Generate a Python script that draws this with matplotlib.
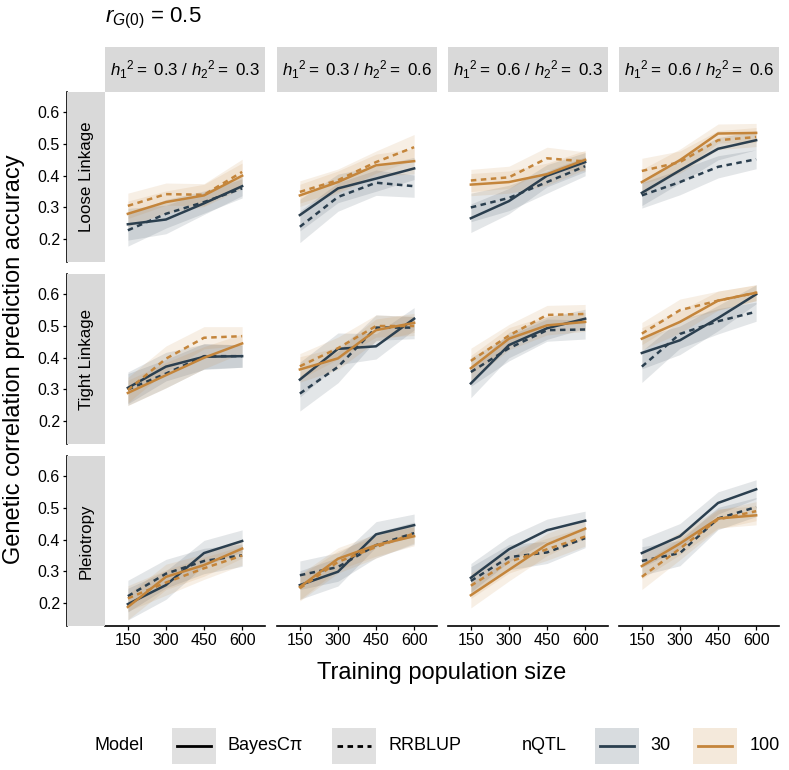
import numpy as np
import matplotlib
matplotlib.use("Agg")
import matplotlib.pyplot as plt
from matplotlib.patches import Rectangle
from matplotlib.lines import Line2D

plt.rcParams['font.family'] = ['Liberation Sans', 'DejaVu Sans']
plt.rcParams['mathtext.fontset'] = 'custom'
plt.rcParams['mathtext.rm'] = 'Liberation Sans'
plt.rcParams['mathtext.it'] = 'Liberation Sans:italic'
plt.rcParams['mathtext.bf'] = 'Liberation Sans:bold'

# данные
sizes = [150, 300, 450, 600]
row_labels = ['Loose Linkage', 'Tight Linkage', 'Pleiotropy']
col_labels = [r'$h_1{}^2 =\ 0.3\ /\ h_2{}^2 =\ 0.3$',
              r'$h_1{}^2 =\ 0.3\ /\ h_2{}^2 =\ 0.6$',
              r'$h_1{}^2 =\ 0.6\ /\ h_2{}^2 =\ 0.3$',
              r'$h_1{}^2 =\ 0.6\ /\ h_2{}^2 =\ 0.6$']

# средняя точность [строка][столбец]
bayes_30 = [
    [[0.247, 0.262, 0.313, 0.367], [0.276, 0.360, 0.391, 0.423], [0.266, 0.320, 0.400, 0.443], [0.346, 0.417, 0.485, 0.512]],
    [[0.305, 0.372, 0.403, 0.405], [0.331, 0.428, 0.436, 0.523], [0.319, 0.440, 0.493, 0.523], [0.415, 0.455, 0.525, 0.600]],
    [[0.197, 0.257, 0.358, 0.396], [0.257, 0.299, 0.417, 0.446], [0.280, 0.370, 0.430, 0.460], [0.358, 0.411, 0.516, 0.559]],
]
rrblup_30 = [
    [[0.228, 0.280, 0.317, 0.360], [0.239, 0.333, 0.378, 0.367], [0.300, 0.330, 0.380, 0.430], [0.338, 0.380, 0.428, 0.452]],
    [[0.300, 0.350, 0.405, 0.405], [0.287, 0.371, 0.495, 0.495], [0.355, 0.430, 0.487, 0.489], [0.372, 0.475, 0.515, 0.545]],
    [[0.222, 0.293, 0.333, 0.351], [0.288, 0.314, 0.383, 0.421], [0.270, 0.345, 0.360, 0.405], [0.333, 0.358, 0.467, 0.503]],
]
bayes_100 = [
    [[0.280, 0.317, 0.338, 0.400], [0.338, 0.380, 0.433, 0.446], [0.372, 0.380, 0.405, 0.450], [0.380, 0.449, 0.533, 0.535]],
    [[0.289, 0.345, 0.400, 0.445], [0.363, 0.398, 0.487, 0.510], [0.367, 0.460, 0.502, 0.513], [0.460, 0.513, 0.580, 0.605]],
    [[0.188, 0.283, 0.320, 0.372], [0.251, 0.340, 0.383, 0.411], [0.225, 0.305, 0.385, 0.435], [0.317, 0.388, 0.467, 0.477]],
]
rrblup_100 = [
    [[0.305, 0.342, 0.340, 0.412], [0.349, 0.386, 0.443, 0.490], [0.385, 0.395, 0.455, 0.445], [0.415, 0.443, 0.512, 0.522]],
    [[0.298, 0.397, 0.463, 0.468], [0.373, 0.430, 0.500, 0.500], [0.390, 0.470, 0.535, 0.538], [0.476, 0.550, 0.580, 0.605]],
    [[0.215, 0.265, 0.310, 0.350], [0.247, 0.330, 0.377, 0.420], [0.255, 0.330, 0.370, 0.410], [0.283, 0.372, 0.464, 0.490]],
]
# полуширина ленты (разброс)
band_30 = [
    [[0.050, 0.045, 0.035, 0.030], [0.050, 0.045, 0.040, 0.035], [0.045, 0.040, 0.035, 0.030], [0.040, 0.040, 0.035, 0.030]],
    [[0.050, 0.045, 0.040, 0.035], [0.055, 0.050, 0.040, 0.035], [0.045, 0.040, 0.035, 0.030], [0.050, 0.045, 0.040, 0.030]],
    [[0.050, 0.045, 0.040, 0.035], [0.045, 0.045, 0.040, 0.035], [0.045, 0.040, 0.035, 0.030], [0.045, 0.040, 0.035, 0.030]],
]
band_100 = [
    [[0.040, 0.035, 0.035, 0.040], [0.035, 0.035, 0.035, 0.040], [0.035, 0.035, 0.035, 0.030], [0.040, 0.035, 0.030, 0.030]],
    [[0.040, 0.040, 0.035, 0.030], [0.040, 0.035, 0.035, 0.030], [0.040, 0.035, 0.030, 0.030], [0.035, 0.035, 0.030, 0.025]],
    [[0.040, 0.040, 0.035, 0.030], [0.040, 0.035, 0.035, 0.030], [0.040, 0.035, 0.035, 0.030], [0.040, 0.035, 0.030, 0.030]],
]

col_blue = '#2b3f4f'
col_orange = '#c4853b'
strip_gray = '#d9d9d9'

W, H = 789, 770
fig = plt.figure(figsize=(W / 100, H / 100), dpi=100)

lefts = [105, 277, 448, 619]
tops = [92, 274, 456]
pw, ph = 160, 170

def fbox(x, y, w, h):
    # пиксели (от верхнего левого угла) -> координаты фигуры
    return [x / W, 1 - (y + h) / H, w / W, h / H]

series = [
    (bayes_30, band_30, col_blue, '-'),
    (rrblup_30, band_30, col_blue, (0, (2.2, 1.8))),
    (bayes_100, band_100, col_orange, '-'),
    (rrblup_100, band_100, col_orange, (0, (2.2, 1.8))),
]

for i, top in enumerate(tops):
    for j, left in enumerate(lefts):
        ax = fig.add_axes(fbox(left, top, pw, ph))
        for data, band, c, ls in series:
            m = np.array(data[i][j])
            b = np.array(band[i][j])
            ax.fill_between(sizes, m - b, m + b, color=c, alpha=0.13, lw=0)
        for data, band, c, ls in series:
            ax.plot(sizes, data[i][j], color=c, lw=1.8, ls=ls)
        ax.set_xlim(60, 690)
        ax.set_ylim(0.128, 0.664)
        ax.set_xticks(sizes)
        ax.set_yticks([0.2, 0.3, 0.4, 0.5, 0.6])
        for s in ax.spines.values():
            s.set_visible(False)
        ax.tick_params(length=3, width=0.9, labelsize=11.5, pad=2, colors='black')
        if j == 0:
            ax.spines['left'].set_visible(True)
            ax.spines['left'].set_position(('outward', 38 * 0.72))
            ax.spines['left'].set_linewidth(1.2)
        else:
            ax.tick_params(axis='y', left=False, labelleft=False)
        if i == 2:
            ax.spines['bottom'].set_visible(True)
            ax.spines['bottom'].set_linewidth(1.2)
        else:
            ax.tick_params(axis='x', bottom=False, labelbottom=False)

# полоски фасетов
for j, left in enumerate(lefts):
    fig.patches.append(Rectangle((left / W, 1 - 92 / H), pw / W, 45 / H,
                                 transform=fig.transFigure, color=strip_gray, lw=0))
    fig.text((left + pw / 2) / W, 1 - 70 / H, col_labels[j], ha='center', va='center', fontsize=12.2)
for i, top in enumerate(tops):
    fig.patches.append(Rectangle((67 / W, 1 - (top + ph) / H), 38 / W, ph / H,
                                 transform=fig.transFigure, color=strip_gray, lw=0))
    fig.text(86 / W, 1 - (top + ph / 2) / H, row_labels[i], ha='center', va='center',
             rotation=90, fontsize=12.2)

fig.text(105 / W, 1 - 18 / H, r'$r_{G(0)}$ = 0.5', ha='left', va='center', fontsize=16)
fig.text(442 / W, 1 - 673 / H, 'Training population size', ha='center', va='center', fontsize=17)
fig.text(14 / W, 1 - 359 / H, 'Genetic correlation prediction accuracy', ha='center', va='center',
         rotation=90, fontsize=17)

# легенда
ly = 746
def key(x, fill, c, ls, alpha):
    fig.patches.append(Rectangle((x / W, 1 - (ly + 18) / H), 44 / W, 36 / H,
                                 transform=fig.transFigure, color=fill, alpha=alpha, lw=0))
    fig.lines.append(Line2D([(x + 5) / W, (x + 39) / W], [1 - ly / H, 1 - ly / H],
                            transform=fig.transFigure, color=c, lw=2.0, ls=ls))

fig.text(95 / W, 1 - ly / H, 'Model', ha='left', va='center', fontsize=13)
key(172, '#d9d9d9', 'black', '-', 0.8)
fig.text(228 / W, 1 - ly / H, 'BayesCπ', ha='left', va='center', fontsize=13)
key(332, '#d9d9d9', 'black', (0, (2.0, 1.6)), 0.8)
fig.text(388 / W, 1 - ly / H, 'RRBLUP', ha='left', va='center', fontsize=13)
fig.text(522 / W, 1 - ly / H, 'nQTL', ha='left', va='center', fontsize=13)
key(595, col_blue, col_blue, '-', 0.18)
fig.text(650 / W, 1 - ly / H, '30', ha='left', va='center', fontsize=13)
key(693, col_orange, col_orange, '-', 0.18)
fig.text(750 / W, 1 - ly / H, '100', ha='left', va='center', fontsize=13)

fig.savefig('out.png', dpi=100)
